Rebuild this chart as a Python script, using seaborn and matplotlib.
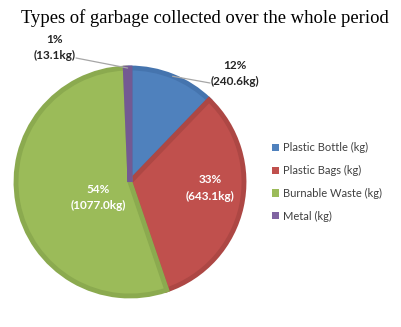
import matplotlib
matplotlib.use("Agg")
import matplotlib.pyplot as plt
import seaborn as sns
import numpy as np
from matplotlib.patches import Patch

categories = ["Plastic Bottle (kg)", "Plastic Bags (kg)", "Burnable Waste (kg)", "Metal (kg)"]
values = [240.6, 643.1, 1077.0, 13.1]
pct_labels = ["12%", "33%", "54%", "1%"]

sns.set_style("white")
colors = ["#4F81BD", "#C0504D", "#9BBB59", "#8064A2"]
edges = ["#4574AE", "#AD4744", "#8BAA4F", "#735A93"]

W, H = 401, 327
fig = plt.figure(figsize=(W / 100, H / 100), dpi=100)
ax = fig.add_axes([0, 0, 1, 1])
cx, cy, r = 130, H - 182, 114
wedges, _ = ax.pie(values, colors=colors, startangle=90, counterclock=False,
                   center=(cx, cy), radius=r,
                   wedgeprops=dict(linewidth=3.5, joinstyle="miter"))
for w, e in zip(wedges, edges):
    w.set_edgecolor(e)
ax.set_xlim(0, W)
ax.set_ylim(0, H)
ax.set_aspect("equal")
ax.axis("off")

lab_font = dict(family=["Lato", "DejaVu Sans"], fontsize=8.5, fontweight="bold")
texts = [f"{p}\n({v:.1f}kg)" for p, v in zip(pct_labels, values)]

# mid-angle points on edge for leader lines
angs = []
start = 90.0
tot = sum(values)
for v in values:
    span = 360 * v / tot
    angs.append(np.deg2rad(start - span / 2))
    start -= span

LS = 1.55
# Plastic bottle (outside)
ex, ey = cx + r * np.cos(angs[0]), cy + r * np.sin(angs[0])
ax.plot([ex, 210], [ey, H - 83], color="#A6A6A6", lw=0.9)
ax.text(235, H - 73.5, texts[0], ha="center", va="center", color="#262626",
        linespacing=LS, **lab_font)
# Metal (outside)
ex, ey = cx + r * np.cos(angs[3]), cy + r * np.sin(angs[3])
ax.plot([ex, 76], [ey, H - 58], color="#A6A6A6", lw=0.9)
ax.text(55, H - 47.5, texts[3], ha="center", va="center", color="#262626",
        linespacing=LS, **lab_font)
# Inside labels
ax.text(210, H - 188, texts[1], ha="center", va="center", color="white",
        linespacing=LS, **lab_font)
ax.text(98, H - 197.5, texts[2], ha="center", va="center", color="white",
        linespacing=LS, **lab_font)

fig.text(0.5 + 4 / W, 1 - 18 / H, "Types of garbage collected over the whole period",
         ha="center", va="center", fontsize=13.4,
         family=["Liberation Serif", "DejaVu Serif"], color="black")

handles = [Patch(facecolor=c, edgecolor="none") for c in colors]
leg = fig.legend(handles, categories, loc="center left",
                 bbox_to_anchor=(262 / W, 1 - 182 / H),
                 frameon=False, handlelength=0.65, handleheight=0.65,
                 handletextpad=0.3, labelspacing=1.05,
                 prop=dict(family=["Lato", "DejaVu Sans"], size=8))
for t in leg.get_texts():
    t.set_color("#404040")

fig.savefig("out.png", dpi=100)
